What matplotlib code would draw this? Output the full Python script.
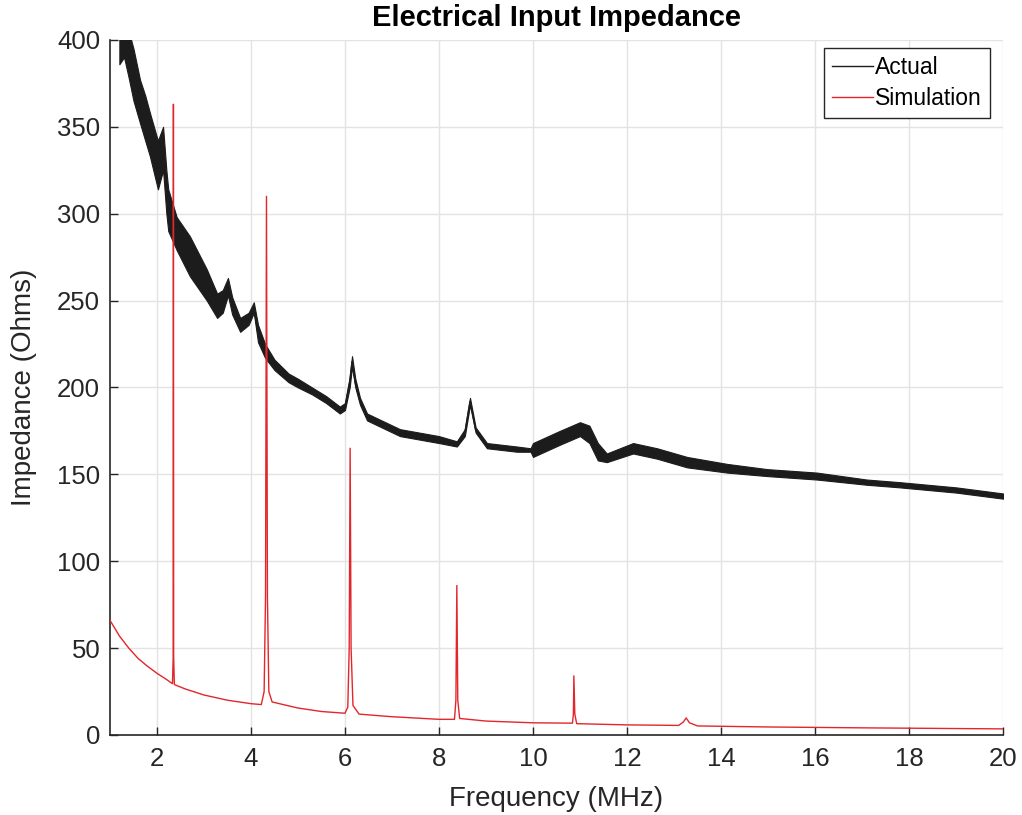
import numpy as np
import matplotlib
matplotlib.use('Agg')
import matplotlib.pyplot as plt

actual_freq = [1.20, 1.30, 1.40, 1.50, 1.64, 1.75, 1.85, 2.02, 2.13, 2.20,
               2.24, 2.42, 2.70, 3.06, 3.28, 3.40, 3.51, 3.60, 3.77, 3.95,
               4.06, 4.15, 4.30, 4.50, 4.80, 5.00, 5.30, 5.60, 5.89, 6.00,
               6.10, 6.15, 6.22, 6.32, 6.47, 7.17, 8.00, 8.38, 8.55, 8.66,
               8.78, 9.02, 9.66, 9.95, 10.0, 10.57, 11.0, 11.2, 11.38, 11.57,
               12.13, 12.64, 13.28, 14.13, 14.98, 16.04, 17.1, 17.8, 19.0, 20.0]
actual_lo = [386, 390, 378, 365, 352, 342, 333, 314, 325, 300,
             290, 279, 264, 250, 240, 243, 253, 242, 232, 236,
             243, 226, 217, 210, 203, 200, 196, 191, 185, 187,
             200, 212, 200, 190, 181, 172, 168, 166, 172, 190,
             174, 165, 163, 163, 160, 167, 172, 168, 158, 157,
             162, 159, 154, 151, 149, 147, 144, 142.5, 139.5, 136]
actual_hi = [420, 420, 405, 395, 377, 368, 358, 342, 350, 325,
             314, 298, 287, 268, 254, 256, 263, 252, 240, 243,
             249, 236, 225, 216, 208, 205, 200, 195, 189, 191,
             206, 218, 205, 194, 185, 176, 172, 169, 176, 194,
             177, 168, 166, 165, 168, 175, 180, 178, 168, 162,
             168, 165, 160, 156, 153, 151, 147, 145.5, 142.5, 139]

# simulated impedance
sim_freq = [1.0, 1.2, 1.4, 1.6, 1.8, 2.0, 2.2, 2.33, 2.345, 2.35, 2.355, 2.37,
            2.6, 3.0, 3.5, 4.0, 4.22, 4.28, 4.31, 4.33, 4.35, 4.38, 4.45,
            5.0, 5.5, 6.0, 6.06, 6.09, 6.11, 6.13, 6.17, 6.3,
            7.0, 8.0, 8.33, 8.36, 8.38, 8.40, 8.44,
            9.0, 10.0, 10.84, 10.86, 10.87, 10.89, 10.93,
            12.0, 13.1, 13.2, 13.26, 13.33, 13.5, 15.0, 17.0, 19.0, 20.0]
sim_imp = [66, 57, 50, 44, 39.5, 35.5, 32, 29.5, 45, 363, 45, 29,
           26.5, 23, 20, 18, 17.5, 25, 80, 310, 80, 25, 19,
           15.5, 13.5, 12.5, 16, 50, 165, 50, 17, 12,
           10.5, 9, 9, 20, 86, 20, 9.5,
           8, 7, 6.8, 12, 34, 12, 6.5,
           5.8, 5.5, 7.5, 9.8, 7.0, 5.2, 4.6, 4.1, 3.7, 3.5]

dark = '#262626'
plt.rcParams['font.family'] = ['Liberation Sans', 'DejaVu Sans']

fig = plt.figure(figsize=(10.22, 8.15), dpi=100)
ax = fig.add_axes([0.1076, 0.0982, 0.8738, 0.8528])

mid = (np.array(actual_lo) + np.array(actual_hi)) / 2
ax.fill_between(actual_freq, actual_lo, actual_hi, color='#1c1c1c', lw=0.8, zorder=3)
ax.plot(actual_freq, mid, color='#1c1c1c', lw=1, label='Actual', zorder=3)
ax.plot(sim_freq, sim_imp, color='#e3262b', lw=1, label='Simulation', zorder=4)

ax.set_xlim(1, 20)
ax.set_ylim(0, 400)
ax.set_xticks(np.arange(2, 21, 2))
ax.set_yticks(np.arange(0, 401, 50))
ax.grid(True, color='#e3e3e3', lw=1)
ax.set_axisbelow(True)
for s in ['top', 'right']:
    ax.spines[s].set_visible(False)
for s in ['left', 'bottom']:
    ax.spines[s].set_color(dark)
    ax.spines[s].set_linewidth(1.2)
ax.tick_params(direction='in', length=6, width=1, colors=dark, labelsize=18.5)
ax.tick_params(axis='y', pad=7)
ax.tick_params(axis='x', pad=9)

ax.set_xlabel('Frequency (MHz)', fontsize=20, color=dark)
ax.set_ylabel('Impedance (Ohms)', fontsize=20, color=dark)
ax.xaxis.set_label_coords(0.5, -0.073)
ax.yaxis.set_label_coords(-0.082, 0.5)
ax.set_title('Electrical Input Impedance', fontsize=21, fontweight='bold', pad=10)

leg = ax.legend(loc='upper right', bbox_to_anchor=(0.9855, 0.9885), borderaxespad=0,
                fontsize=16.5, fancybox=False, framealpha=1, edgecolor=dark,
                handlelength=1.8, handletextpad=0.1, labelspacing=0.35, borderpad=0.35)
leg.get_frame().set_linewidth(1)

fig.savefig('out.png', dpi=100)
